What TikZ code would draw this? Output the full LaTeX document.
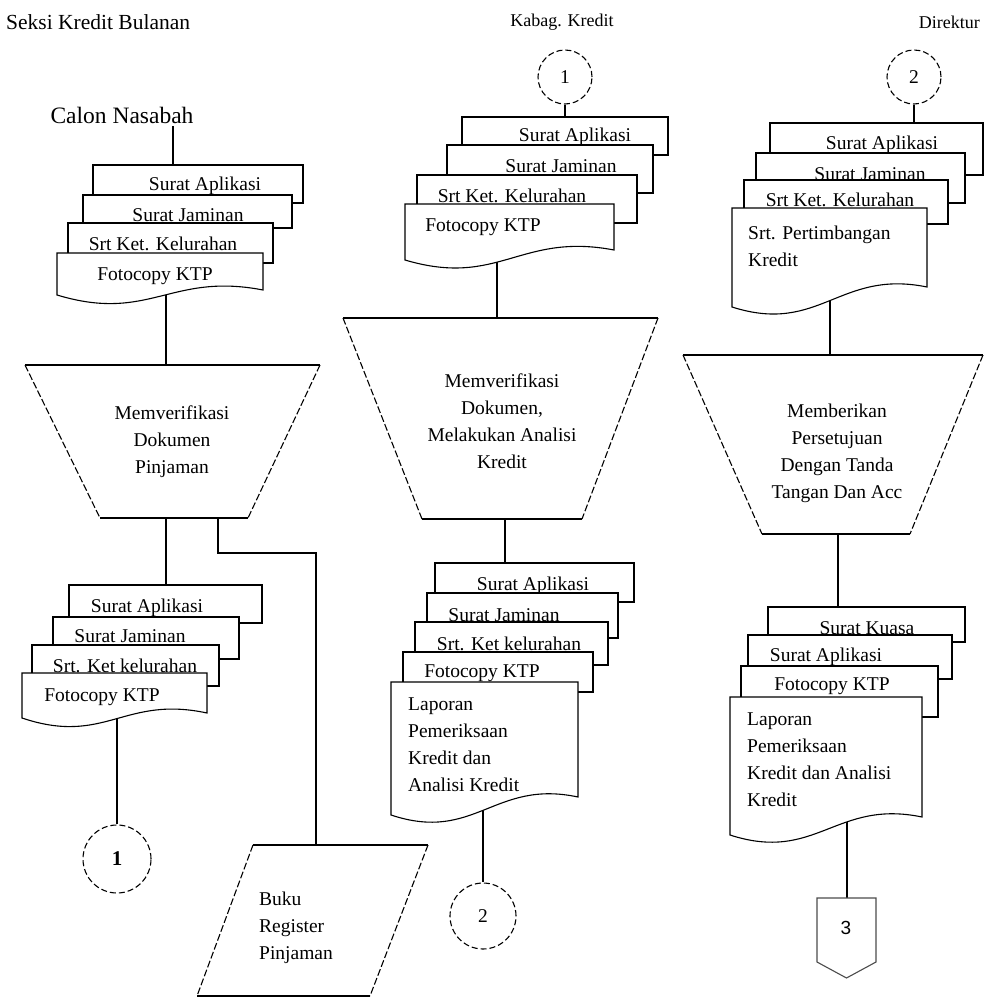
\documentclass[tikz,border=0pt]{standalone}
\usepackage{fontspec}
\setmainfont{Liberation Serif}
\newfontfamily\sansf{Liberation Sans}
\pgfdeclarelayer{bg}
\pgfsetlayers{bg,main}
\newcommand\rdoc[4]{\draw[docline] (#1,#2) rectangle (#3,#4);}
\newcommand\wdoc[5]{%
  \pgfmathsetmacro\cxa{#1+0.45*(#3-#1)}%
  \pgfmathsetmacro\cxb{#1+0.55*(#3-#1)}%
  \pgfmathsetmacro\cya{#4+28}%
  \pgfmathsetmacro\cyb{#5-18}%
  \draw[docline] (#1,#2) -- (#3,#2) -- (#3,#5) .. controls (\cxb,\cyb) and (\cxa,\cya) .. (#1,#4) -- cycle;}
\newcommand\trap[6]{%
  \fill[white] (#1,#3) -- (#2,#3) -- (#5,#6) -- (#4,#6) -- cycle;
  \draw[conn] (#1,#3) -- (#2,#3);
  \draw[conn] (#4,#6) -- (#5,#6);
  \draw[dashside] (#1,#3) -- (#4,#6);
  \draw[dashside] (#2,#3) -- (#5,#6);}
\begin{document}
\begin{tikzpicture}[x=1pt,y=-1pt,
  docline/.style={draw=black,fill=white,line width=1.1pt},
  conn/.style={draw=black,line width=1.1pt},
  dashside/.style={draw=black,line width=1.1pt,dash pattern=on 7pt off 2.5pt},
  txt/.style={font=\fontsize{19.5}{27}\selectfont,inner sep=0pt},
  hdr/.style={font=\fontsize{18}{22}\selectfont,inner sep=0pt},
  circ/.style={circle,draw=black,fill=white,line width=1.1pt,dash pattern=on 6pt off 3pt,inner sep=0pt,font=\fontsize{19.5}{24}\selectfont}]
\useasboundingbox (0,0) rectangle (985,999);
% headers
\node[hdr,anchor=west,font=\fontsize{21.5}{24}\selectfont] (h1) at (6,22) {Seksi Kredit Bulanan};
\node[hdr] (h2) at (562,22) {Kabag. Kredit};
\node[hdr,anchor=east] (h3) at (980,22) {Direktur};

% ---------- column 1 ----------
\node[font=\fontsize{23.5}{26}\selectfont,inner sep=0pt] (calon) at (122,115) {Calon Nasabah};
\coordinate (calon-b) at (173,126);
\coordinate (d1a-t) at (173,165);
\rdoc{93}{165}{303}{203}
\node[txt] (d1a) at (205,186) {Surat Aplikasi};
\rdoc{83}{195}{292}{228}
\node[txt] (d1b) at (188,215) {Surat Jaminan};
\rdoc{68}{223}{273}{263}
\node[txt] (d1c) at (163,244) {Srt Ket. Kelurahan};
\wdoc{57}{253}{263}{295}{290}
\node[txt] (d1d) at (155,276) {Fotocopy KTP};
\coordinate (d1d-b) at (166,285);
\coordinate (t1-t) at (166,365);
\trap{25}{320}{365}{100}{248}{518}
\node[txt,align=center] (t1) at (172,442) {Memverifikasi\\Dokumen\\Pinjaman};
\coordinate (t1-b) at (166,518);
\coordinate (t1-b2) at (218,518);
\coordinate (bend) at (218,553);
\coordinate (d2a-t) at (166,585);
\rdoc{69}{585}{262}{623}
\node[txt] (d2a) at (147,608) {Surat Aplikasi};
\rdoc{53}{617}{239}{659}
\node[txt] (d2b) at (130,636) {Surat Jaminan};
\rdoc{32}{645}{219}{686}
\node[txt] (d2c) at (125,666) {Srt. Ket kelurahan};
\wdoc{22}{673}{207}{718}{713}
\node[txt] (d2d) at (102,697) {Fotocopy KTP};
\coordinate (d2d-b) at (117,712);
\node[circ,minimum size=68pt,font=\fontsize{21}{24}\selectfont\bfseries] (c1) at (117,859) {1};
% parallelogram
\coordinate (p-t) at (316,845);
\fill[white] (253,845) -- (428,845) -- (370,996) -- (197,996) -- cycle;
\draw[conn] (253,845) -- (428,845);
\draw[conn] (197,996) -- (370,996);
\draw[dashside] (253,845) -- (197,996);
\draw[dashside] (428,845) -- (370,996);
\node[txt,align=left,anchor=west] (buku) at (259,928) {Buku\\Register\\Pinjaman};

% ---------- column 2 ----------
\node[circ,minimum size=54pt] (c2) at (565,77) {1};
\coordinate (d3a-t) at (565,117);
\rdoc{462}{117}{668}{155}
\node[txt] (d3a) at (575,137) {Surat Aplikasi};
\rdoc{447}{145}{653}{193}
\node[txt] (d3b) at (561,166) {Surat Jaminan};
\rdoc{417}{175}{637}{223}
\node[txt] (d3c) at (512,196) {Srt Ket. Kelurahan};
\wdoc{405}{204}{614}{260}{250}
\node[txt] (d3d) at (483,227) {Fotocopy KTP};
\coordinate (d3d-b) at (497,250);
\coordinate (t2-t) at (497,318);
\trap{343}{658}{318}{422}{582}{519}
\node[txt,align=center] (t2) at (502,421) {Memverifikasi\\Dokumen,\\Melakukan Analisi\\Kredit};
\coordinate (t2-b) at (505,519);
\coordinate (d4a-t) at (505,563);
\rdoc{435}{563}{634}{602}
\node[txt] (d4a) at (533,586) {Surat Aplikasi};
\rdoc{427}{593}{618}{638}
\node[txt] (d4b) at (504,615) {Surat Jaminan};
\rdoc{415}{622}{608}{665}
\node[txt] (d4c) at (509,644) {Srt. Ket kelurahan};
\rdoc{403}{652}{593}{692}
\node[txt] (d4d) at (482,673) {Fotocopy KTP};
\wdoc{391}{682}{578}{815}{797}
\node[txt,align=left,anchor=west] (d4e) at (408,745) {Laporan\\Pemeriksaan\\Kredit dan\\Analisi Kredit};
\coordinate (d4e-b) at (483,805);
\node[circ,minimum size=66pt] (c3) at (483,916) {2};

% ---------- column 3 ----------
\node[circ,minimum size=54pt] (c4) at (914,77) {2};
\coordinate (d5a-t) at (914,123);
\rdoc{770}{123}{983}{175}
\node[txt] (d5a) at (882,145) {Surat Aplikasi};
\rdoc{756}{153}{965}{203}
\node[txt] (d5b) at (870,174) {Surat Jaminan};
\rdoc{744}{180}{948}{224}
\node[txt] (d5c) at (840,200) {Srt Ket. Kelurahan};
\wdoc{732}{208}{927}{307}{287}
\node[txt,align=left,anchor=west] (d5d) at (748,246) {Srt. Pertimbangan\\Kredit};
\coordinate (d5d-b) at (830,295);
\coordinate (t3-t) at (830,355);
\trap{683}{983}{355}{762}{910}{534}
\node[txt,align=center] (t3) at (837,453) {Memberikan\\Persetujuan\\Dengan Tanda\\Tangan Dan Acc};
\coordinate (t3-b) at (838,534);
\coordinate (d6a-t) at (838,607);
\rdoc{768}{607}{965}{642}
\node[txt] (d6a) at (867,628) {Surat Kuasa};
\rdoc{748}{635}{952}{679}
\node[txt] (d6b) at (826,657) {Surat Aplikasi};
\rdoc{741}{666}{938}{717}
\node[txt] (d6c) at (832,686) {Fotocopy KTP};
\wdoc{730}{697}{922}{835}{817}
\node[txt,align=left,anchor=west] (d6d) at (747,760) {Laporan\\Pemeriksaan\\Kredit dan Analisi\\Kredit};
\coordinate (d6d-b) at (847,820);
\coordinate (off-t) at (847,898);
\fill[white] (817,898) -- (876,898) -- (876,962) -- (846.5,978) -- (817,962) -- cycle;
\draw[draw=black!70,line width=1.1pt] (817,898) -- (876,898) -- (876,962) -- (846.5,978) -- (817,962) -- cycle;
\node[inner sep=0pt,font=\sansf\fontsize{19}{22}\selectfont] (off) at (846,928) {3};

% ---------- connectors ----------
\begin{pgfonlayer}{bg}
\draw[conn] (calon-b) -- (d1a-t);
\draw[conn] (d1d-b) -- (t1-t);
\draw[conn] (t1-b) -- (d2a-t);
\draw[conn] (t1-b2) -- (bend) -| (p-t);
\draw[conn] (d2d-b) -- (c1.north);
\draw[conn] (c2.south) -- (d3a-t);
\draw[conn] (d3d-b) -- (t2-t);
\draw[conn] (t2-b) -- (d4a-t);
\draw[conn] (d4e-b) -- (c3.north);
\draw[conn] (c4.south) -- (d5a-t);
\draw[conn] (d5d-b) -- (t3-t);
\draw[conn] (t3-b) -- (d6a-t);
\draw[conn] (d6d-b) -- (off-t);
\end{pgfonlayer}
\end{tikzpicture}
\end{document}
